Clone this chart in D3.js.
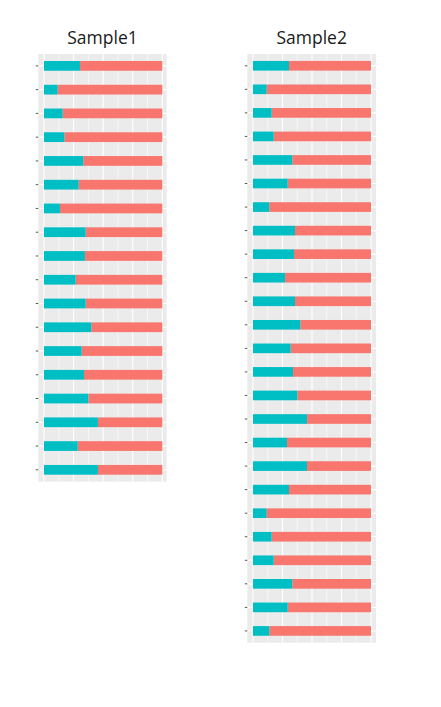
<!DOCTYPE html>
<html>
<head>
<meta charset="utf-8">
<script src="https://cdn.jsdelivr.net/npm/d3@7"></script>
<style>
  body { margin: 0; background: white; }
</style>
</head>
<body>
<div id="chart"></div>
<script>
// share of the teal part in each bar, top to bottom
const sample1 = [0.304, 0.115, 0.158, 0.172, 0.332, 0.293, 0.135, 0.352, 0.346,
                 0.268, 0.352, 0.400, 0.318, 0.338, 0.375, 0.456, 0.285, 0.456];
const sample2 = [0.305, 0.116, 0.158, 0.175, 0.333, 0.294, 0.138, 0.356, 0.347,
                 0.271, 0.356, 0.401, 0.319, 0.339, 0.376, 0.458, 0.288, 0.458,
                 0.305, 0.116, 0.158, 0.175, 0.333, 0.294, 0.138];
const titles = ["Sample1", "Sample2"];

const width = 441, height = 707;
const svg = d3.select("#chart").append("svg")
    .attr("width", width)
    .attr("height", height);

// panel boxes (gray background) and where 0 and 1 land
const panels = [
  {title: titles[0], values: sample1, x0: 38.3, x1: 166.7, y0: 54, y1: 481.7, a: 44, b: 162.3},
  {title: titles[1], values: sample2, x0: 247.3, x1: 376, y0: 54, y1: 642.7, a: 253, b: 371}
];

panels.forEach(p => {
  const g = svg.append("g");
  const cats = p.values.map((d, i) => i);

  const x = d3.scaleLinear().domain([0, 1]).range([p.a, p.b]);
  const y = d3.scalePoint().domain(cats)
      .range([p.y0, p.y1]).padding(0.5);
  const bh = y.step() * 0.41;

  g.append("rect")
      .attr("x", p.x0).attr("y", p.y0)
      .attr("width", p.x1 - p.x0).attr("height", p.y1 - p.y0)
      .attr("fill", "#EBEBEB");

  // vertical grid, minor then major
  g.selectAll(".minor").data([0.125, 0.375, 0.625, 0.875]).join("line")
      .attr("x1", d => x(d)).attr("x2", d => x(d))
      .attr("y1", p.y0).attr("y2", p.y1)
      .attr("stroke", "white").attr("stroke-width", 0.6);
  g.selectAll(".major").data([0, 0.25, 0.5, 0.75, 1]).join("line")
      .attr("x1", d => x(d)).attr("x2", d => x(d))
      .attr("y1", p.y0).attr("y2", p.y1)
      .attr("stroke", "white").attr("stroke-width", 1.1);
  // horizontal grid at each bar
  g.selectAll(".hgrid").data(cats).join("line")
      .attr("x1", p.x0).attr("x2", p.x1)
      .attr("y1", d => y(d)).attr("y2", d => y(d))
      .attr("stroke", "white").attr("stroke-width", 1.1);

  // stacked bars
  g.selectAll(".red").data(p.values).join("rect")
      .attr("x", d => x(d)).attr("y", (d, i) => y(i) - bh / 2)
      .attr("width", d => x(1) - x(d)).attr("height", bh)
      .attr("fill", "#F8766D");
  g.selectAll(".teal").data(p.values).join("rect")
      .attr("x", x(0)).attr("y", (d, i) => y(i) - bh / 2)
      .attr("width", d => x(d) - x(0)).attr("height", bh)
      .attr("fill", "#00BFC4");

  // tiny ticks on the left
  g.selectAll(".tick").data(cats).join("line")
      .attr("x1", p.x0 - 2.5).attr("x2", p.x0)
      .attr("y1", d => y(d)).attr("y2", d => y(d))
      .attr("stroke", "#555").attr("stroke-width", 1);

  svg.append("text")
      .attr("x", (p.x0 + p.x1) / 2)
      .attr("y", 44)
      .attr("text-anchor", "middle")
      .style("font-family", "'Open Sans', sans-serif")
      .style("font-size", "17.5px")
      .attr("fill", "#1a1a1a")
      .text(p.title);
});
</script>
</body>
</html>
